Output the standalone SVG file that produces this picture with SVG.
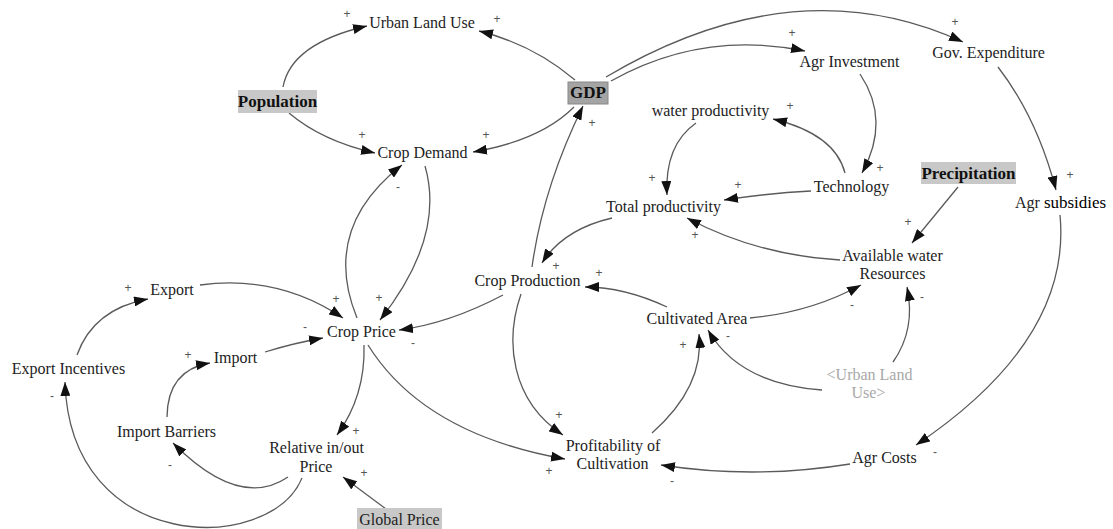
<svg xmlns="http://www.w3.org/2000/svg" width="1113" height="529" viewBox="0 0 1113 529">
<style>
.t{font-family:"Liberation Serif","Times New Roman",serif;font-size:16px;fill:#222;text-anchor:middle}
.b{font-weight:bold;font-size:17px;fill:#111}
.g{fill:#a8a8a8}
.box{fill:#c8c8c8}
.c path{fill:none;stroke:#5a5a5a;stroke-width:1.3;marker-end:url(#ah)}
.p{font-family:"Liberation Sans",Arial,sans-serif;font-size:12px;fill:#555;text-anchor:middle}
</style>
<defs>
<marker id="ah" markerUnits="userSpaceOnUse" markerWidth="16" markerHeight="10" refX="14" refY="5" orient="auto">
<path d="M0,0 L14,5 L0,10 z" fill="#111"/>
</marker>
</defs>
<rect width="1113" height="529" fill="#fff"/>

<g id="connectors" class="c">
<path d="M283,87 Q291,43.5 367,26"/>
<path d="M289,113 Q322,141 375,153"/>
<path d="M575,80 Q533,44.5 479,31"/>
<path d="M574,107 Q540.5,140.5 473,152"/>
<path d="M611,81 Q702,30 805,51"/>
<path d="M606,77 Q795,-35 963,42"/>
<path d="M532,267 Q543,187.5 583,106"/>
<path d="M425,166 Q445.5,237 380,320"/>
<path d="M357,318 Q320.5,228.5 402,165"/>
<path d="M200,285 Q278.5,274.5 343,318"/>
<path d="M265,352 Q294,343 323,338"/>
<path d="M503,295 Q449,323.5 399,330"/>
<path d="M364,345 Q365.5,396 337,435"/>
<path d="M368,345 Q423.5,434 565,459"/>
<path d="M521,294 C505,340 510,400 563,435"/>
<path d="M612,218 Q563,229.5 542,263"/>
<path d="M696,123 Q664.5,145 667,195"/>
<path d="M845,173 Q835,134 773,119"/>
<path d="M860,74 Q891,120.5 862,173"/>
<path d="M811,191 Q770,193 724,200"/>
<path d="M840,260 Q756.5,255 687,218"/>
<path d="M958,187 L912,243"/>
<path d="M998,67 Q1037,117.5 1056,190"/>
<path d="M1060,215 Q1072,340 916,445"/>
<path d="M850,464 Q754.5,479.5 661,465"/>
<path d="M652,433 Q704.5,386.5 699,334"/>
<path d="M822,390 Q739,384 708,330"/>
<path d="M893,362 Q916,329.5 907,287"/>
<path d="M750,318 Q810.5,312.5 861,285"/>
<path d="M667,307 Q624,287 585,287"/>
<path d="M77,355 Q93.5,309 148,299"/>
<path d="M167,417 Q167.5,370 210,363"/>
<path d="M288,477 Q239.5,510 173,443"/>
<path d="M302,478 C270,555 70,555 65,382"/>
<path d="M386,509 L343,477"/>
</g>

<g id="urban-land-use"><text class="t" x="422" y="28">Urban Land Use</text></g>
<g id="population"><rect class="box" x="238" y="90" width="79" height="23"/><text class="t b" x="277.5" y="107">Population</text></g>
<g id="crop-demand"><text class="t" x="422.5" y="158">Crop Demand</text></g>
<g id="gdp"><rect x="568" y="82" width="40" height="22" fill="#a4a4a4" stroke="#888"/><text class="t b" x="588" y="98">GDP</text></g>
<g id="agr-investment"><text class="t" x="849.5" y="67">Agr Investment</text></g>
<g id="gov-expenditure"><text class="t" x="988.5" y="58">Gov. Expenditure</text></g>
<g id="water-productivity"><text class="t" x="710.5" y="116">water productivity</text></g>
<g id="technology"><text class="t" x="851.5" y="192">Technology</text></g>
<g id="precipitation"><rect class="box" x="921" y="162" width="95" height="22"/><text class="t b" x="968.5" y="179">Precipitation</text></g>
<g id="agr-subsidies"><text class="t" x="1015" y="208" style="text-anchor:start">Agr <tspan style="font-size:17px;fill:#000">subsidies</tspan></text></g>
<g id="total-productivity"><text class="t" x="663.5" y="212">Total productivity</text></g>
<g id="available-water"><text class="t" x="892.5" y="261">Available water</text><text class="t" x="892.5" y="279">Resources</text></g>
<g id="crop-production"><text class="t" x="527.5" y="286">Crop Production</text></g>
<g id="cultivated-area"><text class="t" x="697" y="324">Cultivated Area</text></g>
<g id="crop-price"><text class="t" x="361.5" y="337">Crop Price</text></g>
<g id="export"><text class="t" x="172" y="295">Export</text></g>
<g id="import"><text class="t" x="235.5" y="363">Import</text></g>
<g id="export-incentives"><text class="t" x="68.5" y="374">Export Incentives</text></g>
<g id="import-barriers"><text class="t" x="166.5" y="437">Import Barriers</text></g>
<g id="relative-price"><text class="t" x="316.5" y="453">Relative in/out</text><text class="t" x="316" y="472">Price</text></g>
<g id="global-price"><rect class="box" x="357" y="508" width="85" height="22" fill="#b4b4b4"/><text class="t" x="399.5" y="525">Global Price</text></g>
<g id="profitability"><text class="t" x="613" y="451">Profitability of</text><text class="t" x="612.5" y="469">Cultivation</text></g>
<g id="urban-land-use-shadow"><text class="t g" x="869.5" y="380">&lt;Urban Land</text><text class="t g" x="868.5" y="398">Use&gt;</text></g>
<g id="agr-costs"><text class="t" x="884.5" y="463">Agr Costs</text></g>

<g id="polarities">
<text class="p" x="347" y="18">+</text>
<text class="p" x="497" y="23">+</text>
<text class="p" x="362" y="139">+</text>
<text class="p" x="486" y="139">+</text>
<text class="p" x="398" y="191">-</text>
<text class="p" x="592" y="127">+</text>
<text class="p" x="792" y="37">+</text>
<text class="p" x="955" y="26">+</text>
<text class="p" x="790" y="110">+</text>
<text class="p" x="880" y="172">+</text>
<text class="p" x="652" y="182">+</text>
<text class="p" x="738" y="189">+</text>
<text class="p" x="695" y="239">+</text>
<text class="p" x="908" y="226">+</text>
<text class="p" x="1070" y="179">+</text>
<text class="p" x="556" y="270">+</text>
<text class="p" x="599" y="277">+</text>
<text class="p" x="852" y="309">-</text>
<text class="p" x="922" y="301">-</text>
<text class="p" x="728" y="340">-</text>
<text class="p" x="683" y="349">+</text>
<text class="p" x="559" y="419">+</text>
<text class="p" x="549" y="475">+</text>
<text class="p" x="672" y="485">-</text>
<text class="p" x="935" y="456">-</text>
<text class="p" x="128" y="292">+</text>
<text class="p" x="336" y="303">+</text>
<text class="p" x="379" y="302">+</text>
<text class="p" x="305" y="331">-</text>
<text class="p" x="413" y="347">-</text>
<text class="p" x="188" y="359">+</text>
<text class="p" x="52" y="400">-</text>
<text class="p" x="170" y="469">-</text>
<text class="p" x="356" y="435">+</text>
<text class="p" x="364" y="477">+</text>
</g>
</svg>
